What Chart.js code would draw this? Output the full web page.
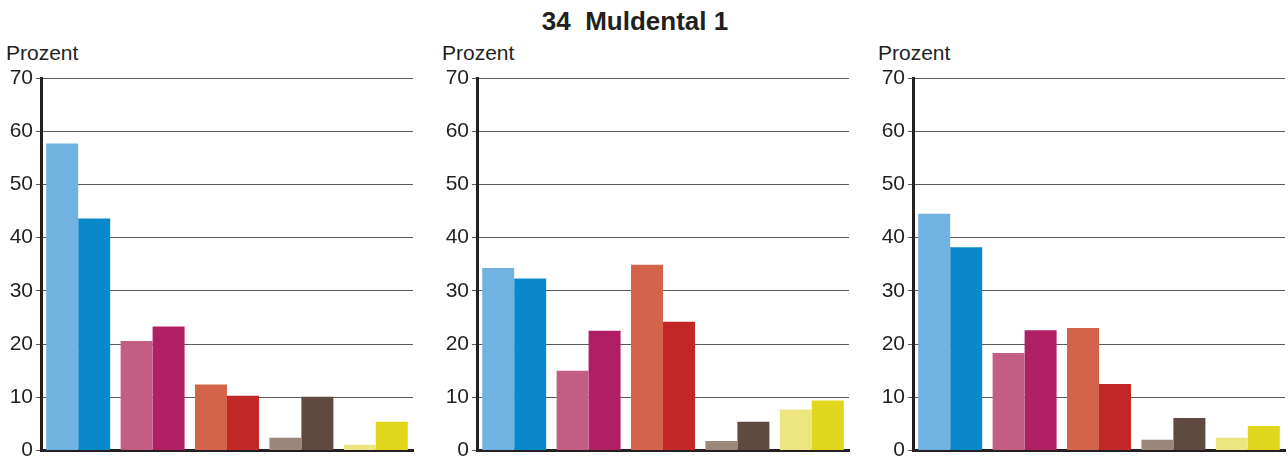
<!DOCTYPE html>
<html>
<head>
<meta charset="utf-8">
<script src="https://cdn.jsdelivr.net/npm/chart.js@4/dist/chart.umd.min.js"></script>
<style>
  html, body { margin: 0; padding: 0; background: #fff; overflow: hidden; width: 1288px; height: 456px; }
  body { position: relative; font-family: "Liberation Sans", Arial, sans-serif; color: #231f20; }
  .title { position: absolute; left: 0; width: 1270px; top: 8px; text-align: center; font-weight: bold; font-size: 26px; line-height: 26px; }
  .unit { position: absolute; top: 42px; font-size: 21px; line-height: 21px; }
  canvas { position: absolute; top: 40px; }
</style>
</head>
<body>
<div class="title">34&nbsp;&nbsp;Muldental 1</div>
<div class="unit" style="left:6px">Prozent</div>
<div class="unit" style="left:442px">Prozent</div>
<div class="unit" style="left:878px">Prozent</div>
<canvas id="c1" width="436" height="430" style="left:0px"></canvas>
<canvas id="c2" width="436" height="430" style="left:436px"></canvas>
<canvas id="c3" width="436" height="430" style="left:872px"></canvas>
<script>
var categories = ["Gruppe 1", "Gruppe 2", "Gruppe 3", "Gruppe 4", "Gruppe 5"];
var yTicks = [0, 10, 20, 30, 40, 50, 60, 70];

var lightColors = ["#72b2e1", "#c35d84", "#d4634b", "#9b887d", "#ede680"];
var darkColors = ["#0a89ca", "#b01f64", "#c12726", "#5e4a40", "#e0d71e"];

var panel1Light = [57.7, 20.6, 12.4, 2.4, 1.1];
var panel1Dark = [43.6, 23.3, 10.3, 10.1, 5.4];
var panel2Light = [34.3, 15.0, 34.9, 1.8, 7.7];
var panel2Dark = [32.3, 22.5, 24.2, 5.4, 9.4];
var panel3Light = [44.5, 18.3, 23.0, 2.0, 2.4];
var panel3Dark = [38.2, 22.6, 12.5, 6.1, 4.6];

function makeChart(id, light, dark) {
  return new Chart(document.getElementById(id), {
    type: 'bar',
    data: {
      labels: categories,
      datasets: [
        { label: 'A', data: light, backgroundColor: lightColors, borderWidth: 0 },
        { label: 'B', data: dark, backgroundColor: darkColors, borderWidth: 0 }
      ]
    },
    options: {
      responsive: false,
      animation: false,
      devicePixelRatio: 1,
      categoryPercentage: 0.86,
      barPercentage: 1.0,
      layout: { padding: { top: 38, bottom: 19.5, left: 0, right: 23 } },
      plugins: {
        legend: { display: false },
        tooltip: { enabled: false },
        title: { display: false }
      },
      scales: {
        x: {
          ticks: { display: false },
          grid: { display: false, drawTicks: false },
          border: { display: true, color: '#231f20', width: 3 }
        },
        y: {
          min: yTicks[0],
          max: yTicks[yTicks.length - 1],
          afterFit: function (s) { s.width = 41; },
          afterBuildTicks: function (s) { s.ticks = yTicks.map(function (v) { return { value: v }; }); },
          ticks: {
            padding: 3,
            color: '#231f20',
            font: { family: "'Liberation Sans', Arial, sans-serif", size: 21 }
          },
          grid: { color: '#5a5a5a', lineWidth: 1, tickLength: 5, tickColor: '#5a5a5a' },
          border: { display: true, color: '#231f20', width: 3 }
        }
      }
    }
  });
}

makeChart('c1', panel1Light, panel1Dark);
makeChart('c2', panel2Light, panel2Dark);
makeChart('c3', panel3Light, panel3Dark);
</script>
</body>
</html>
